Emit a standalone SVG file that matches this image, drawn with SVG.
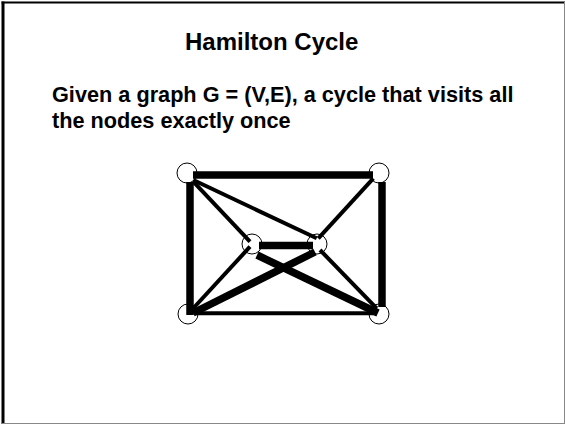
<svg xmlns="http://www.w3.org/2000/svg" width="565" height="424" viewBox="0 0 565 424">
<style>
.node{fill:#fff;stroke:#000;stroke-width:1}
.thick{stroke:#000;stroke-width:7.5;stroke-linecap:butt}
.thin{stroke:#000;stroke-width:4;stroke-linecap:butt}
.title{font-family:"Liberation Sans",Arial,sans-serif;font-weight:bold;font-size:24px;fill:#000}
.body{font-family:"Liberation Sans",Arial,sans-serif;font-weight:bold;font-size:21.7px;fill:#000}
</style>
<rect width="565" height="424" fill="#fff"/>
<g id="frame">
<line x1="3" y1="1.5" x2="3" y2="424" stroke="#000" stroke-width="3"/>
<line x1="1.5" y1="2.5" x2="565" y2="2.5" stroke="#000" stroke-width="2"/>
<line x1="564.5" y1="2" x2="564.5" y2="424" stroke="#888" stroke-width="1"/>
<line x1="2" y1="423.5" x2="565" y2="423.5" stroke="#888" stroke-width="1"/>
</g>
<text class="title" x="185" y="50">Hamilton Cycle</text>
<text class="body" x="52" y="102">Given a graph G = (V,E), a cycle that visits all</text>
<text class="body" x="52" y="128">the nodes exactly once</text>
<g id="n-tl"><circle class="node" cx="187" cy="173" r="10"/></g>
<g id="n-tr"><circle class="node" cx="379" cy="173" r="10"/></g>
<g id="n-bl"><circle class="node" cx="188" cy="314" r="10"/></g>
<g id="n-br"><circle class="node" cx="379" cy="314" r="10"/></g>
<g id="n-ml"><circle class="node" cx="252" cy="244" r="10"/></g>
<g id="n-mr"><circle class="node" cx="317" cy="244" r="10"/></g>
<g id="edges">
<line class="thin" x1="193.3" y1="180" x2="316.7" y2="238.3"/>
<line class="thin" x1="193.3" y1="181.7" x2="250" y2="241.7"/>
<line class="thin" x1="373.3" y1="178.3" x2="318.3" y2="238.3"/>
<line class="thin" x1="250" y1="246.7" x2="191.7" y2="310"/>
<line class="thin" x1="320" y1="250" x2="376.7" y2="308.3"/>
<line class="thin" x1="196.7" y1="313.3" x2="376.7" y2="313.3"/>
<line class="thick" x1="193" y1="175" x2="373" y2="175"/>
<line class="thick" x1="190" y1="182" x2="190" y2="315"/>
<line class="thick" x1="382" y1="182" x2="382" y2="307"/>
<line class="thick" x1="259" y1="245.5" x2="313" y2="245.5"/>
<line class="thick" x1="257" y1="255" x2="378" y2="313"/>
<line class="thick" x1="315" y1="252" x2="193" y2="313"/>
</g>
</svg>
